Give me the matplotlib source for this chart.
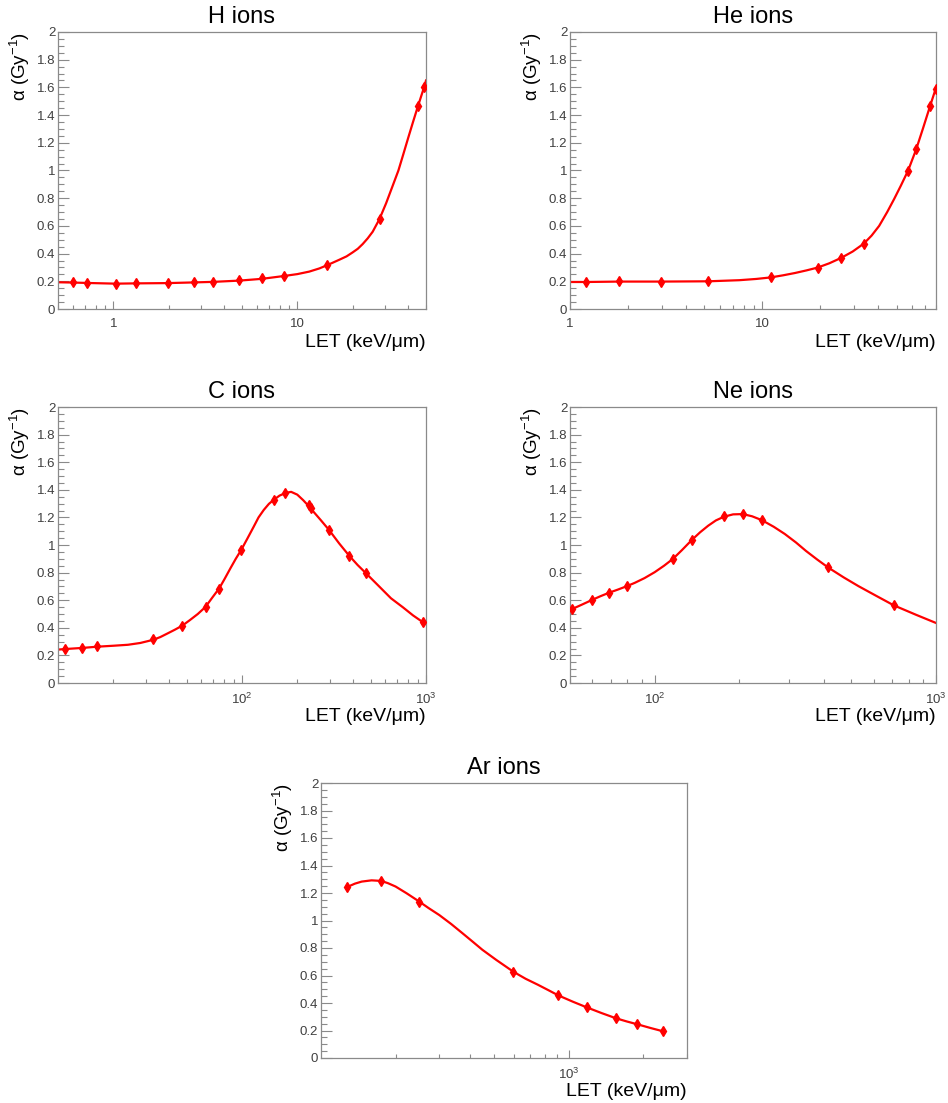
import numpy as np
import matplotlib
matplotlib.use("Agg")
import matplotlib.pyplot as plt
from matplotlib.ticker import FixedLocator, FuncFormatter, MultipleLocator

plt.rcParams['font.family'] = ['Liberation Sans', 'DejaVu Sans']
plt.rcParams['mathtext.fontset'] = 'custom'
plt.rcParams['mathtext.rm'] = 'Liberation Sans'
plt.rcParams['mathtext.it'] = 'Liberation Sans:italic'

# --- datos (LET en keV/um, alpha en Gy^-1) ---
h_let = [0.605, 0.721, 1.03, 1.32, 1.97, 2.75, 3.5, 4.84, 6.44, 8.42, 14.5, 28.1, 45.1, 48.5]
h_alpha = [0.193, 0.188, 0.178, 0.186, 0.188, 0.198, 0.198, 0.21, 0.222, 0.241, 0.318, 0.651, 1.467, 1.6]
h_curva_let = [0.5, 0.605, 0.721, 1.03, 1.32, 1.97, 2.75, 3.5, 4.84, 6.44, 8.42, 10.0, 11.6, 13.17,
               14.5, 16.92, 18.5, 19.98, 21.3, 22.64, 24.1, 25.66, 27.9, 30.34, 32.96, 35.4, 37.5,
               40, 42.5, 45.1, 48.5, 50.0]
h_curva_alpha = [0.193, 0.191, 0.188, 0.183, 0.185, 0.187, 0.192, 0.196, 0.205, 0.218, 0.238, 0.252,
                 0.27, 0.293, 0.316, 0.356, 0.38, 0.409, 0.435, 0.469, 0.51, 0.558, 0.648, 0.763,
                 0.89, 1.0, 1.11, 1.235, 1.35, 1.46, 1.59, 1.65]

he_let = [1.216, 1.796, 2.98, 5.245, 11.05, 19.38, 25.7, 33.7, 57.3, 63.0, 74.5, 79.7]
he_alpha = [0.195, 0.2, 0.198, 0.2, 0.231, 0.299, 0.371, 0.472, 1.0, 1.152, 1.467, 1.586]
he_curva_let = [1.0, 1.216, 1.796, 2.98, 5.245, 7.6, 9.3, 11.05, 12.8, 14.8, 17, 19.38, 22.3, 25.7,
                29.5, 33.7, 37, 40.5, 44.6, 48.5, 52.5, 57.3, 63.0, 68.5, 74.5, 79.7, 80.0]
he_curva_alpha = [0.195, 0.195, 0.198, 0.198, 0.2, 0.208, 0.217, 0.228, 0.243, 0.26, 0.279, 0.299,
                  0.33, 0.369, 0.415, 0.472, 0.53, 0.6, 0.70, 0.795, 0.89, 1.0, 1.15, 1.305,
                  1.465, 1.59, 1.598]

c_let = [10.9, 13.5, 16.3, 32.7, 47.3, 63.4, 74.6, 99.2, 148.9, 172.3, 231, 237.7, 295.8, 380, 472.6, 963]
c_alpha = [0.246, 0.254, 0.266, 0.319, 0.415, 0.551, 0.681, 0.961, 1.328, 1.377, 1.287, 1.266, 1.109,
           0.923, 0.797, 0.44]
c_curva_let = [10.0, 10.9, 13.5, 16.3, 20, 24, 28, 32.7, 36, 39.5, 43, 47.3, 52, 57.5, 63.4, 68.7,
               75.3, 80.5, 86.4, 92.5, 99.2, 107, 115.8, 123, 131.3, 140, 148.9, 160, 174.1, 185,
               199.7, 215, 231.1, 248, 267.7, 297.2, 337.1, 382.1, 425, 471.2, 545.8, 645, 750,
               850, 963]
c_curva_alpha = [0.242, 0.246, 0.254, 0.263, 0.27, 0.277, 0.29, 0.312, 0.333, 0.36, 0.385, 0.415,
                 0.455, 0.5, 0.552, 0.616, 0.687, 0.755, 0.83, 0.9, 0.966, 1.047, 1.133, 1.2,
                 1.254, 1.298, 1.328, 1.358, 1.379, 1.385, 1.365, 1.325, 1.28, 1.232, 1.181,
                 1.109, 1.012, 0.923, 0.855, 0.796, 0.711, 0.614, 0.548, 0.49, 0.44]

ne_let = [51.0, 59.9, 68.6, 79.5, 116.2, 135.3, 176.3, 205.9, 240.5, 413.6, 707.5]
ne_alpha = [0.537, 0.602, 0.653, 0.701, 0.9, 1.035, 1.209, 1.224, 1.18, 0.837, 0.563]
ne_curva_let = [50, 51.0, 55, 59.9, 64, 68.6, 74, 79.5, 85, 92, 100, 108, 116.2, 125, 135.3, 145,
                155, 165, 176.3, 190, 205.9, 222, 240.5, 265, 290, 318, 345, 378, 413.6, 470,
                530, 610, 707.5, 850, 1000]
ne_curva_alpha = [0.532, 0.537, 0.567, 0.602, 0.628, 0.653, 0.677, 0.701, 0.726, 0.76, 0.803, 0.85,
                  0.9, 0.963, 1.035, 1.092, 1.14, 1.178, 1.205, 1.222, 1.224, 1.208, 1.18, 1.132,
                  1.08, 1.018, 0.957, 0.895, 0.837, 0.765, 0.702, 0.634, 0.563, 0.494, 0.435]

ar_let = [127, 174.6, 248, 598, 908, 1183, 1556, 1893, 2404]
ar_alpha = [1.245, 1.288, 1.138, 0.627, 0.455, 0.368, 0.288, 0.245, 0.194]
ar_curva_let = [127, 137, 146, 160, 174.6, 186, 200, 222, 248, 272, 300, 335, 372, 410, 448, 510,
                598, 670, 750, 830, 908, 1040, 1183, 1360, 1556, 1720, 1893, 2140, 2404]
ar_curva_alpha = [1.242, 1.268, 1.283, 1.292, 1.288, 1.272, 1.247, 1.197, 1.14, 1.09, 1.04, 0.975,
                  0.908, 0.845, 0.787, 0.713, 0.627, 0.576, 0.533, 0.492, 0.455, 0.409, 0.368,
                  0.326, 0.288, 0.265, 0.245, 0.218, 0.194]

titulos = ["H ions", "He ions", "C ions", "Ne ions", "Ar ions"]

fig = plt.figure(figsize=(9.48, 11.03), dpi=100)

# posiciones de los ejes en pixeles (izq, arriba, der, abajo)
cajas = [(58, 32, 426, 309), (570, 32, 936, 309),
         (58, 407, 426, 683), (570, 407, 936, 683),
         (321, 783, 687, 1058)]

gris = '#8a8a8a'


def poner_ejes(caja):
    x0, y0, x1, y1 = caja
    return fig.add_axes([x0 / 948, 1 - y1 / 1103, (x1 - x0) / 948, (y1 - y0) / 1103])


def formato_potencia(v, pos):
    e = int(round(np.log10(v)))
    return r'$10^{%d}$' % e


def dibujar(ax, titulo, let, alpha, c_let_, c_alpha_, xlim, mayores, menores, potencia):
    ax.plot(c_let_, c_alpha_, color='red', lw=1.6, zorder=2, solid_joinstyle='round')
    ax.plot(let, alpha, linestyle='none', marker='d', ms=5.6, color='red', zorder=3)
    ax.set_xscale('log')
    ax.set_xlim(*xlim)
    ax.set_ylim(0, 2)
    ax.xaxis.set_major_locator(FixedLocator(mayores))
    ax.xaxis.set_minor_locator(FixedLocator(menores))
    if potencia:
        ax.xaxis.set_major_formatter(FuncFormatter(formato_potencia))
    else:
        ax.xaxis.set_major_formatter(FuncFormatter(lambda v, p: '%g' % v))
    ax.xaxis.set_minor_formatter(FuncFormatter(lambda v, p: ''))
    ax.yaxis.set_major_locator(MultipleLocator(0.2))
    ax.yaxis.set_minor_locator(MultipleLocator(0.05))
    ax.yaxis.set_major_formatter(FuncFormatter(lambda v, p: '%g' % round(v, 2)))
    for s in ax.spines.values():
        s.set_color(gris)
        s.set_linewidth(0.9)
    ax.tick_params(axis='both', which='both', direction='in', color=gris, width=0.8,
                   labelcolor='#404040', labelsize=9.5)
    ax.tick_params(axis='y', which='major', length=8, pad=2)
    ax.tick_params(axis='y', which='minor', length=4)
    ax.tick_params(axis='x', which='major', length=6, pad=6.5)
    ax.tick_params(axis='x', which='minor', length=3)
    ax.set_title(titulo, fontsize=17, pad=6.5)
    ax.annotate(u'\u03b1 (Gy$^{-1}$)', xy=(0, 1), xycoords='axes fraction',
                xytext=(-27.5, 0), textcoords='offset points',
                rotation=90, ha='center', va='top', fontsize=13.5)
    ax.annotate(u'LET (keV/\u03bcm)', xy=(1, 0), xycoords='axes fraction',
                xytext=(0, -24), textcoords='offset points',
                ha='right', va='center', fontsize=14)


dec = [2, 3, 4, 5, 6, 7, 8, 9]
ejes = [poner_ejes(c) for c in cajas]

dibujar(ejes[0], titulos[0], h_let, h_alpha, h_curva_let, h_curva_alpha, (0.5, 50), [1, 10],
        [0.1 * d for d in dec] + dec + [10 * d for d in dec], False)
dibujar(ejes[1], titulos[1], he_let, he_alpha, he_curva_let, he_curva_alpha, (1, 80), [1, 10],
        dec + [10 * d for d in dec], False)
dibujar(ejes[2], titulos[2], c_let, c_alpha, c_curva_let, c_curva_alpha, (10, 1000), [100, 1000],
        [10 * d for d in dec] + [100 * d for d in dec], True)
dibujar(ejes[3], titulos[3], ne_let, ne_alpha, ne_curva_let, ne_curva_alpha, (50, 1000), [100, 1000],
        [10 * d for d in dec] + [100 * d for d in dec], True)
dibujar(ejes[4], titulos[4], ar_let, ar_alpha, ar_curva_let, ar_curva_alpha, (100, 3000), [1000],
        [100 * d for d in dec] + [1000 * d for d in dec], True)

fig.savefig("out.png", dpi=100)
